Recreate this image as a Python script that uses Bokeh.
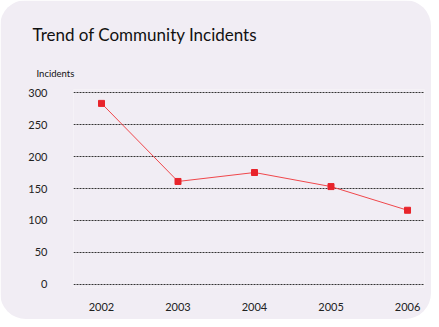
from bokeh.plotting import figure
from bokeh.models import Range1d, FixedTicker, Title
from bokeh.embed import file_html
from bokeh.resources import INLINE

years = [2002, 2003, 2004, 2005, 2006]
incidents = [283, 161, 175, 153, 116]
y_ticks = [0, 50, 100, 150, 200, 250, 300]

PANEL = "#F1EDF4"
FONT = "Lato"

p = figure(width=431, height=319, output_backend="svg", toolbar_location=None,
           x_range=Range1d(2001.634, 2006.222), y_range=Range1d(-4.69, 304.69),
           min_border_left=73, min_border_right=7, min_border_top=89, min_border_bottom=32)
p.styles = {"border-radius": "26px", "overflow": "hidden"}
p.background_fill_color = PANEL
p.border_fill_color = PANEL
p.outline_line_color = None

p.line(years, incidents, line_color="#F0474B", line_width=1)
p.scatter(years, incidents, marker="square", size=6, fill_color="#E8242B", line_color="#E8242B")

p.xgrid.grid_line_color = None
p.ygrid.ticker = FixedTicker(ticks=y_ticks)
p.ygrid.grid_line_color = "#333333"
p.ygrid.grid_line_dash = "2 1"
p.ygrid.grid_line_width = 1

p.xaxis.ticker = FixedTicker(ticks=years)
p.yaxis.ticker = FixedTicker(ticks=y_ticks)
for ax in (p.xaxis, p.yaxis):
    ax.axis_line_color = None
    ax.major_tick_line_color = None
    ax.minor_tick_line_color = None
    ax.major_label_text_font = FONT
    ax.major_label_text_font_size = "11px"
    ax.major_label_text_color = "#222222"
p.yaxis.major_label_standoff = 20
p.xaxis.major_label_standoff = 9

t_inc = Title(text="Incidents", align="left", offset=-37, standoff=22,
              text_font=FONT, text_font_size="9.5px", text_font_style="normal", text_color="#111111")
t_main = Title(text="Trend of Community Incidents", align="left", offset=-41, standoff=20,
               text_font=FONT, text_font_size="17px", text_font_style="normal", text_color="#111111")
p.add_layout(t_inc, "above")
p.add_layout(t_main, "above")

open("out.html", "w").write(file_html(p, INLINE))
